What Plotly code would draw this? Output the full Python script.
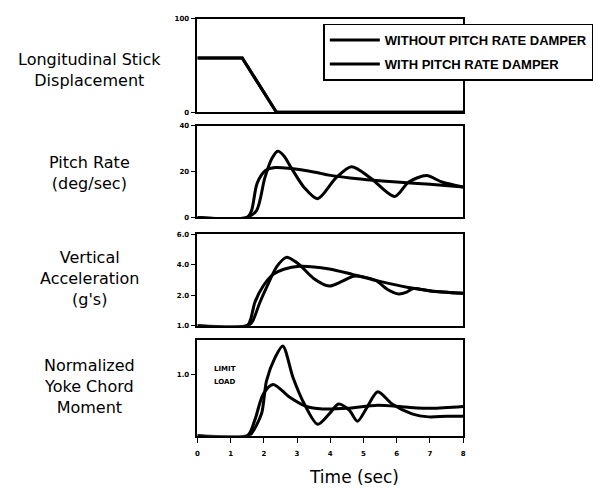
import plotly.graph_objects as go

# ---------------- data ----------------
SERIES = ["WITHOUT PITCH RATE DAMPER", "WITH PITCH RATE DAMPER"]

# Longitudinal stick displacement (same input for both cases)
stick_t = [0, 1.35, 2.38, 8.0]
stick_v = [58, 58, 0, 0]

# Pitch rate (deg/sec)
q_wo_t = [0, 1.48, 1.78, 2.03, 2.25, 2.42, 2.6, 2.83, 3.22, 3.62, 4.17, 4.64, 5.21, 5.94, 6.36, 6.9, 7.36, 8.0]
q_wo_v = [0, 0, 3, 17.3, 26, 29, 27, 21.6, 13, 8.2, 17.3, 22.2, 17.3, 9.2, 15.5, 18.3, 15.5, 13.3]
q_w_t = [0, 1.5, 1.63, 1.8, 2.05, 2.35, 2.8, 3.5, 4.0, 4.6, 5.3, 6.0, 7.0, 8.0]
q_w_v = [0, 0, 3, 15, 20.5, 21.8, 21.4, 19.9, 18.4, 17.3, 16.3, 15.5, 14.5, 13.3]

# Vertical acceleration (axis position units: 0=1.0g, 1=2.0g, 2=4.0g, 3=6.0g)
nz_ticks = ["1.0", "2.0", "4.0", "6.0"]
nz_wo_t = [0, 1.52, 1.65, 1.88, 2.1, 2.4, 2.68, 2.95, 3.12, 3.5, 3.97, 4.35, 4.7, 5.0, 5.37, 5.75, 6.06, 6.3, 6.5, 7.0, 8.0]
nz_wo_v = [0, 0, 0.12, 0.76, 1.3, 1.95, 2.24, 2.1, 1.95, 1.55, 1.30, 1.45, 1.62, 1.6, 1.48, 1.17, 1.04, 1.1, 1.22, 1.14, 1.06]
nz_w_t = [0, 1.5, 1.6, 1.73, 1.98, 2.28, 2.6, 3.07, 3.97, 4.67, 5.46, 6.35, 7.05, 8.0]
nz_w_v = [0, 0, 0.2, 0.76, 1.3, 1.68, 1.85, 1.95, 1.86, 1.68, 1.46, 1.25, 1.14, 1.06]

# Normalized yoke chord moment
m_wo_t = [0, 1.52, 1.63, 1.93, 2.08, 2.33, 2.57, 2.88, 3.22, 3.62, 3.97, 4.25, 4.57, 4.82, 5.11, 5.43, 5.86, 6.46, 6.96, 7.5, 8.0]
m_wo_v = [0, 0, 0.04, 0.36, 0.9, 1.27, 1.47, 0.95, 0.52, 0.19, 0.36, 0.52, 0.42, 0.24, 0.47, 0.72, 0.52, 0.36, 0.31, 0.32, 0.32]
m_w_t = [0, 1.5, 1.73, 1.98, 2.28, 2.78, 3.28, 3.77, 4.5, 5.43, 6.26, 7.05, 8.0]
m_w_v = [0, 0, 0.26, 0.68, 0.84, 0.63, 0.48, 0.44, 0.45, 0.5, 0.47, 0.45, 0.48]

x_ticks = [0, 1, 2, 3, 4, 5, 6, 7, 8]

# ---------------- figure ----------------
W, H = 607, 490
fig = go.Figure()

LINE = dict(color="black", width=3, shape="spline", smoothing=0.8)

panels = [
    ("y", [stick_t, stick_t], [stick_v, stick_v]),
    ("y2", [q_wo_t, q_w_t], [q_wo_v, q_w_v]),
    ("y3", [nz_wo_t, nz_w_t], [nz_wo_v, nz_w_v]),
    ("y4", [m_wo_t, m_w_t], [m_wo_v, m_w_v]),
]
xref = {"y": "x", "y2": "x2", "y3": "x3", "y4": "x4"}
for pi, (yax, ts, vs) in enumerate(panels):
    for si in range(2):
        line = dict(LINE)
        if pi == 0:
            line["shape"] = "linear"
        fig.add_trace(go.Scatter(
            x=ts[si], y=vs[si], mode="lines", line=line,
            name=SERIES[si], legendgroup=SERIES[si],
            showlegend=(pi == 0), xaxis=xref[yax], yaxis=yax,
            hoverinfo="skip"))

def px_x(p):
    return p / W

def px_y(p):
    return 1 - p / H

xdom = [px_x(197), px_x(465)]
ydoms = [
    [px_y(110), px_y(15)],
    [px_y(217), px_y(124)],
    [px_y(327), px_y(234)],
    [px_y(439), px_y(342)],
]

axis_common = dict(showline=True, linecolor="black", linewidth=1.5, mirror=True,
                   showgrid=False, zeroline=False)
tickfont = dict(family="DejaVu Sans", size=7, color="black", weight="bold")

layout = dict(
    width=W, height=H, margin=dict(l=0, r=0, t=0, b=0),
    paper_bgcolor="white", plot_bgcolor="white",
    font=dict(family="DejaVu Sans", color="black"),
)
for i in range(4):
    xa = "xaxis" if i == 0 else f"xaxis{i+1}"
    ya = "yaxis" if i == 0 else f"yaxis{i+1}"
    yname = "y" if i == 0 else f"y{i+1}"
    layout[xa] = dict(axis_common, domain=xdom, range=[0, 8], anchor=yname,
                      showticklabels=(i == 3), ticks=("outside" if i == 3 else ""),
                      tickvals=x_ticks, ticklen=5, tickcolor="black", tickwidth=1,
                      tickfont=tickfont, ticklabelstandoff=5)
    layout[ya] = dict(axis_common, domain=ydoms[i], anchor=("x" if i == 0 else f"x{i+1}"),
                      ticks="outside", ticklen=5, tickcolor="black", tickwidth=1,
                      tickfont=tickfont)

layout["yaxis"].update(range=[0, 100], tickvals=[0, 100], ticktext=["0", "100"])
layout["yaxis2"].update(range=[0, 40], tickvals=[0, 20, 40], ticktext=["0", "20", "40"])
layout["yaxis3"].update(range=[0, 3], tickvals=[0, 1, 2, 3], ticktext=nz_ticks)
layout["yaxis4"].update(range=[0, 1.56], tickvals=[1.0], ticktext=["1.0"])

layout["legend"] = dict(
    x=px_x(324), y=px_y(20), xanchor="left", yanchor="top",
    bgcolor="white", bordercolor="black", borderwidth=1.5,
    font=dict(family="Liberation Sans", size=13, color="black", weight="bold"),
    traceorder="grouped", tracegroupgap=4, itemwidth=50,
)

fig.update_layout(**layout)

# Left-hand row titles
titles = [
    ("Longitudinal Stick<br>Displacement", 66.75),
    ("Pitch Rate<br>(deg/sec)", 171.5),
    ("Vertical<br>Acceleration<br>(g's)", 279.5),
    ("Normalized<br>Yoke Chord<br>Moment", 388.5),
]
for txt, yc in titles:
    fig.add_annotation(text=txt, xref="paper", yref="paper", x=px_x(88), y=px_y(yc),
                       xanchor="center", yanchor="middle", showarrow=False, align="center",
                       font=dict(family="DejaVu Sans", size=16, color="black"))

fig.add_annotation(text="Time (sec)", xref="paper", yref="paper", x=px_x(355), y=px_y(481),
                   xanchor="center", yanchor="middle", showarrow=False,
                   font=dict(family="DejaVu Sans", size=17, color="black"))

for txt, yv in [("LIMIT", 1.093), ("LOAD", 0.876)]:
    fig.add_annotation(text=txt, xref="x4", yref="y4", x=0.45, y=yv,
                       xanchor="left", yanchor="middle", showarrow=False, align="left",
                       font=dict(family="DejaVu Sans", size=7, color="black", weight="bold"))

fig.write_html("out.html", config={"displayModeBar": False},
               post_script="document.body.style.margin='0px';")
